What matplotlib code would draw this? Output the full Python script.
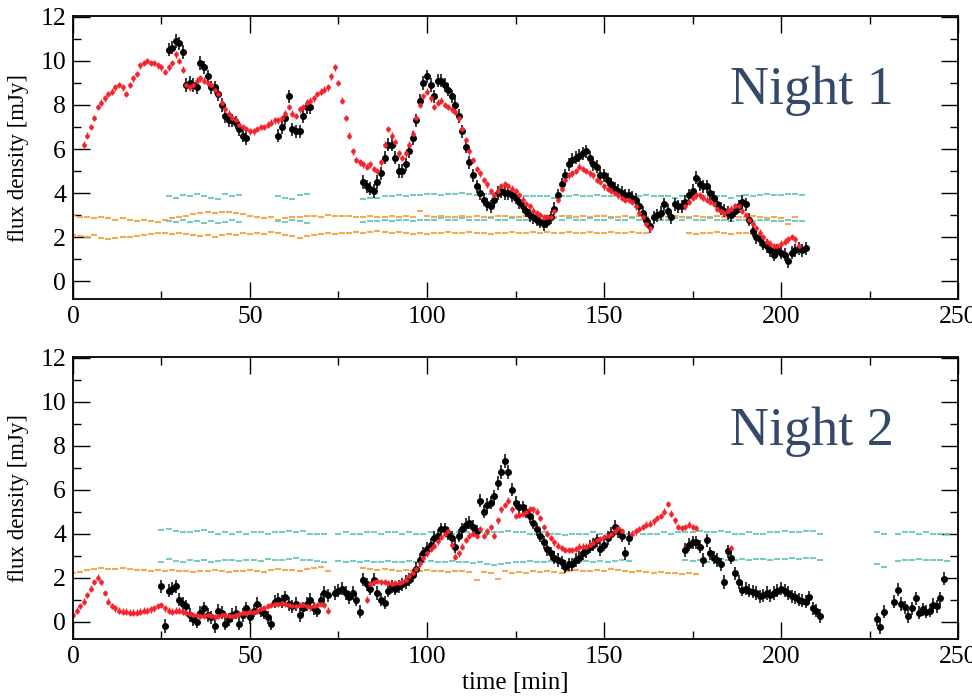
import numpy as np
import matplotlib
matplotlib.use("Agg")
import matplotlib.pyplot as plt
from matplotlib.ticker import MultipleLocator

RED = "#f5232b"
CYAN = "#68c6bd"
ORANGE = "#f3a23c"
NIGHT_COLOR = "#34486a"
SERIF = "Liberation Serif"

# ---------------- Night 1 ----------------
# source (red, 1 min sampling)
n1_red_a_t0 = 3
n1_red_a = [6.2, 6.6, 7.0, 7.4, 7.9, 8.1, 8.3, 8.5, 8.6, 8.8,
            8.9, 8.8, 8.5, 8.9, 9.2, 9.4, 9.8, 9.9, 10.0, 9.9,
            9.9, 9.8, 9.7, 9.5, 9.7, 9.9, 10.3, 10.0, 9.6, 8.9,
            8.8, 8.9, 9.1, 9.2, 9.1, 9.0, 8.9, 8.7, 8.5, 8.1,
            7.8, 7.6, 7.4, 7.3, 7.1, 7.0, 6.9, 6.8, 6.8, 6.9,
            7.0, 7.0, 7.1, 7.2, 7.3, 7.3, 7.4, 7.6, 7.9, 7.6,
            7.5, 7.8, 7.9, 8.1, 8.2, 8.3, 8.5, 8.6, 8.7, 8.8,
            9.3, 9.7, 9.0, 8.2, 7.4, 6.6, 5.9, 5.5, 5.4, 5.3,
            5.2, 5.3, 5.1, 5.0, 5.4, 6.2, 6.9, 6.6, 6.3, 5.8,
            5.6, 5.8, 6.2, 6.7, 7.4, 8.0, 8.4, 8.6, 8.3, 7.9,
            8.1, 8.2, 8.0, 7.9, 7.8, 7.7, 7.4, 6.9, 6.4, 5.9,
            5.5, 5.1, 4.9, 4.6, 4.4, 4.1, 3.9, 4.1, 4.3, 4.4,
            4.3, 4.2, 4.1, 3.9, 3.7, 3.5, 3.4, 3.2, 3.1, 3.0,
            2.9, 2.9, 2.9, 3.2, 3.7, 4.2, 4.6, 4.8, 4.9, 5.0,
            5.2, 5.1, 5.0, 4.9, 4.8, 4.6, 4.5, 4.3, 4.2, 4.1,
            4.0, 3.9, 3.8, 3.7, 3.7, 3.6, 3.4, 3.1, 2.9, 2.6, 2.4]
n1_red_b_t0 = 173
n1_red_b = [3.4, 3.6, 3.8, 3.9, 3.9, 3.8, 3.7, 3.6, 3.5, 3.3,
            3.2, 3.1, 3.2, 3.3, 3.4, 3.4, 3.2, 3.0, 2.8, 2.6,
            2.4, 2.2, 2.0, 1.8, 1.7, 1.6, 1.6, 1.7, 1.8, 1.9,
            2.0, 1.9, 1.6]

# source (black, with error bars)
n1_blk_a_t0 = 27
n1_blk_a = [10.5, 10.6, 10.9, 10.8, 10.4, 8.9, 9.0, 8.9, 8.8, 9.9,
            9.7, 9.3, 8.8, 8.8, 8.5, 8.0, 7.5, 7.3, 7.3, 7.2,
            6.9, 6.6, 6.5]
n1_blk_b_t0 = 58
n1_blk_b = [6.6, 7.0, 7.4, 8.4, 6.9, 6.8, 6.8, 7.5, 7.9, 7.9]
n1_blk_c_t0 = 82
n1_blk_c = [4.5, 4.3, 4.2, 4.1, 4.5, 4.9, 5.6, 6.2, 6.2, 5.6,
            5.0, 5.0, 5.3, 5.9, 6.5, 7.3, 8.2, 9.0, 9.3, 8.9,
            8.4, 9.1, 9.1, 8.9, 8.7, 8.4, 8.0, 7.5, 6.8, 6.1,
            5.4, 4.8, 4.3, 4.0, 3.7, 3.5, 3.4, 3.7, 4.0, 4.1,
            4.0, 4.0, 3.9, 3.8, 3.6, 3.4, 3.2, 3.0, 2.9, 2.8,
            2.7, 2.6, 2.7, 2.9, 3.3, 3.9, 4.4, 4.8, 5.3, 5.5,
            5.6, 5.7, 5.8, 5.9, 5.6, 5.3, 5.2, 4.8, 4.8, 4.6,
            4.4, 4.2, 4.1, 4.0, 3.9, 3.9, 3.8, 3.7, 3.4, 3.1,
            2.8, 2.5, 2.9, 3.0, 3.1, 3.5, 3.2, 2.9, 3.5, 3.4,
            3.4, 3.6, 3.9, 4.1, 4.7, 4.4, 4.3, 4.3, 4.0, 3.8,
            3.5, 3.3, 3.2, 3.1, 3.0, 3.2, 3.4, 3.6, 3.5, 2.8,
            2.3, 2.0, 1.9, 1.7, 1.6, 1.4, 1.2, 1.4, 1.3, 1.2,
            0.9, 1.3, 1.4, 1.5, 1.4, 1.5]

# comparison stars (2 min sampling)
n1_cyan_hi_a_t0 = 27
n1_cyan_hi_a = [3.85, 3.8, 3.9, 3.85, 3.95, 3.85, 3.8, 3.75, 3.95, 3.85, 3.9]
n1_cyan_hi_b_t0 = 58
n1_cyan_hi_b = [3.85, 3.8, 3.75, 3.9, 3.95]
n1_cyan_hi_c_t0 = 82
n1_cyan_hi_c = [3.75, 3.8, 3.8, 3.85, 3.85, 3.9, 3.85, 3.9, 3.9,
                3.95, 3.95, 3.9, 3.95, 3.95, 4.0, 3.95, 3.9, 3.95, 3.95,
                3.9, 3.9, 3.95, 3.9, 3.85, 3.85,
                3.85, 3.85, 3.8, 3.85, 3.85, 3.9, 3.85, 3.85, 3.9, 3.85,
                3.85, 3.9, 3.85, 3.8, 3.85, 3.9, 3.85, 3.85, 3.85, 3.8,
                3.85, 3.85, 3.9, 3.85, 3.9, 3.85, 3.85, 3.8, 3.85, 3.9,
                3.85, 3.9, 3.95, 3.9, 3.9, 3.95, 3.95, 3.9]
n1_cyan_lo_a_t0 = 27
n1_cyan_lo_a = [2.75, 2.7, 2.8, 2.7, 2.75, 2.65, 2.75, 2.65, 2.7, 2.8, 2.7]
n1_cyan_lo_b_t0 = 58
n1_cyan_lo_b = [2.75, 2.7, 2.8, 2.75, 2.65]
n1_cyan_lo_c_t0 = 82
n1_cyan_lo_c = [2.7, 2.75, 2.75, 2.8, 2.75, 2.8, 2.8, 2.75, 2.8,
                2.8, 2.8, 2.85, 2.8, 2.8, 2.85, 2.8, 2.8, 2.8, 2.85,
                2.8, 2.8, 2.85, 2.8, 2.8, 2.85,
                2.8, 2.85, 2.85, 2.8, 2.85, 2.8, 2.8, 2.85, 2.8, 2.8,
                2.85, 2.8, 2.8, 2.85, 2.8, 2.8, 2.85, 2.8, 2.8, 2.85,
                2.8, 2.85, 2.8, 2.8, 2.85, 2.8, 2.8, 2.75, 2.8, 2.8,
                2.75, 2.8, 2.8, 2.75, 2.75, 2.8, 2.75, 2.75]
n1_orange_hi_t0 = 0
n1_orange_hi = [3.0, 2.9, 2.9, 2.85, 2.9, 2.85, 2.8, 2.85, 2.8, 2.75, 2.8, 2.75, 2.7,
                2.8, 2.85, 2.9, 2.95, 3.05, 3.1, 3.15, 3.1, 3.15, 3.15, 3.1, 3.05, 2.95,
                2.9, 2.85, 2.9, 2.8, 2.85, 2.9, 2.9, 2.95, 2.95, 2.9, 3.0, 2.95, 2.95,
                2.95, 2.9, 2.9, 2.95, 2.9, 2.9, 2.95, 2.9, 2.95, 2.9, 3.2, 2.95, 2.9,
                2.95, 2.9, 2.9, 2.95, 2.9, 2.95, 2.9, 2.9, 2.95, 2.95, 2.9, 2.9, 2.95,
                2.9, 2.95, 2.95, 2.9, 2.95, 2.95, 2.9, 2.95, 2.9, 2.95, 2.95, 2.9, 2.9,
                2.95, 2.9, 2.95, 2.9, 2.85, 2.9, 2.9, 2.95, 2.9, 2.9, 2.95, 2.9, 2.9,
                2.95, 2.9, 2.85, 2.9, 2.9, 2.95, 2.9, 2.85, 2.9, 2.85, 2.6, 2.9]
n1_orange_lo_a_t0 = 0
n1_orange_lo_a = [2.1, 2.05, 2.0, 2.1, 1.95, 1.9, 1.95, 2.0, 2.0, 2.05, 2.1, 2.15, 2.2,
                  2.2, 2.15, 2.2, 2.15, 2.1, 2.05, 2.1, 2.0, 2.1, 2.15, 2.1, 2.2, 2.15,
                  2.2, 2.15, 2.25, 2.2, 2.1, 2.05, 1.95, 2.05, 2.1, 2.15, 2.2, 2.15, 2.2,
                  2.2, 2.25, 2.2, 2.25, 2.3, 2.25, 2.2, 2.25, 2.2, 2.15, 2.2, 2.15, 2.2,
                  2.2, 2.25, 2.2, 2.2, 2.25, 2.2, 2.2, 2.15, 2.2, 2.2, 2.25, 2.2, 2.2,
                  2.25, 2.2, 2.25, 2.2, 2.2, 2.25, 2.2, 2.2, 2.25, 2.2, 2.2, 2.25, 2.2,
                  2.2, 2.25, 2.2, 2.2]
n1_orange_lo_b_t0 = 174
n1_orange_lo_b = [2.2, 2.15, 2.2, 2.2, 2.25, 2.2, 2.15, 2.2, 2.2, 2.15]

# ---------------- Night 2 ----------------
n2_red_a_t0 = 0
n2_red_a = [0.3, 0.5, 0.7, 0.9, 1.2, 1.5, 1.8, 2.0, 1.8, 1.3,
            0.9, 0.7, 0.6, 0.5, 0.45, 0.45, 0.4, 0.4, 0.4, 0.45,
            0.5, 0.5, 0.55, 0.6, 0.7, 0.75, 0.6, 0.5, 0.45, 0.5,
            0.5, 0.45, 0.4, 0.35, 0.3, 0.3, 0.25, 0.25, 0.3, 0.25,
            0.2, 0.25, 0.3, 0.3, 0.25, 0.25, 0.3, 0.35, 0.4, 0.4,
            0.45, 0.45, 0.5, 0.55, 0.6, 0.7, 0.75, 0.8, 0.8, 0.85,
            0.8, 0.75, 0.7, 0.7, 0.75, 0.75, 0.7, 0.65, 0.7, 0.75,
            0.8, 0.75, 0.5]
n2_red_b_t0 = 83
n2_red_b = [1.0, 1.7, 1.8, 1.85, 1.8, 1.8, 1.75, 1.7, 1.75, 1.75,
            1.8, 1.9, 2.05, 2.2, 2.4, 2.65, 2.9, 3.1, 3.3, 3.45,
            3.65, 3.85, 4.0, 4.1, 3.5, 2.95, 3.1, 3.4, 3.7, 3.9,
            4.0, 3.9, 4.2, 3.9, 4.1, 4.3, 3.9, 4.6, 5.1, 5.3,
            5.5, 5.1, 4.8, 4.85, 4.9, 5.0, 5.1, 5.1, 5.0, 4.7,
            4.3, 4.0, 3.8, 3.6, 3.45, 3.35, 3.25, 3.25, 3.25, 3.3,
            3.4, 3.4, 3.4, 3.5, 3.55, 3.7, 3.75, 3.85, 3.9, 4.0,
            4.1, 4.25, 4.1]
n2_red_c_t0 = 158
n2_red_c = [4.0, 4.1, 4.2, 4.3, 4.4, 4.45, 4.55, 4.7, 4.8, 5.0,
            5.35, 4.9, 4.6, 4.3, 4.25, 4.3, 4.4, 4.3, 4.25]
n2_red_d_t0 = 186
n2_red_d = [3.35]

n2_blk_a_t0 = 25
n2_blk_a = [1.6, -0.2, 1.4, 1.5, 1.6, 1.0, 0.8, 0.7, 0.3, 0.1,
            0.0, 0.4, 0.6, 0.3, 0.2, -0.2, 0.5, 0.4, -0.1, 0.1,
            0.3, 0.4, -0.1, 0.3, 0.6, 0.2, 0.5, 0.8, 0.5, 0.4,
            0.2, -0.1, 0.9, 1.0, 0.9, 1.1, 0.8, 0.7, 0.8, 0.3,
            0.6, 0.8, 1.0, 0.6, 0.5, 1.0, 1.3, 1.2]
n2_blk_b_t0 = 74
n2_blk_b = [1.3, 1.4, 1.5, 1.3, 1.1, 1.3, 1.0, 0.45, 1.9, 1.7,
            1.5, 1.9, 1.3, 1.0, 0.85, 1.4, 1.6, 1.5, 1.6, 1.7,
            1.8, 1.9, 2.1, 2.4, 2.8, 3.1, 3.3, 3.5, 3.8, 3.9,
            4.2, 4.2, 4.0, 3.8, 3.4, 3.9, 4.2, 4.4, 4.5, 4.3,
            4.1, 5.5, 5.0, 5.3, 5.4, 5.7, 6.3, 6.8, 7.3, 6.8,
            6.0, 5.4, 5.2, 5.2, 5.0, 4.8, 4.5, 4.2, 3.9, 3.6,
            3.3, 3.1, 2.9, 2.8, 2.7, 2.5, 2.6, 2.6, 2.8, 2.9,
            3.1, 3.2, 3.4, 3.5, 3.7, 3.3, 3.5, 3.8, 4.0, 4.3,
            4.1, 3.9, 3.1, 3.8]
n2_blk_c_t0 = 173
n2_blk_c = [3.25, 3.5, 3.6, 3.6, 3.4, 2.8, 3.7, 3.1, 2.9, 2.8,
            2.6, 1.8, 3.2, 2.9, 2.2, 1.8, 1.45, 1.5, 1.4, 1.35,
            1.3, 1.15, 1.2, 1.3, 1.2, 1.3, 1.4, 1.5, 1.4, 1.3,
            1.15, 1.1, 1.0, 0.95, 0.9, 1.1, 0.6, 0.5, 0.25]
n2_blk_d_t0 = 227
n2_blk_d = [0.1, -0.25, 0.45]
n2_blk_e_t0 = 232
n2_blk_e = [0.9, 1.45, 0.8, 0.65, 0.25, 0.6, 1.05, 0.4, 0.55, 0.45,
            0.5, 0.75, 0.7, 1.05, 1.95]

n2_cyan_hi_a_t0 = 25
n2_cyan_hi_a = [4.15, 4.2, 4.1, 4.05, 4.05, 4.1, 4.15, 4.05, 4.0, 4.05, 4.0, 4.05,
                4.0, 4.05, 4.05, 4.0, 4.05, 4.05, 4.1, 4.05, 4.1, 4.0, 4.0, 4.0]
n2_cyan_hi_b_t0 = 75
n2_cyan_hi_b = [4.0, 4.05, 4.0, 4.0, 4.05, 4.05, 4.0, 4.05, 4.05, 4.0, 4.05, 4.0, 4.0,
                4.05, 4.0, 4.05, 4.0, 4.05, 4.05, 4.0, 4.05, 4.0, 4.05, 4.05, 4.1, 4.05,
                4.05, 4.0, 4.0, 4.05, 4.0, 4.0, 3.95, 4.0, 4.0, 4.0, 4.05, 4.0, 4.0,
                4.0, 4.05, 4.0, 4.05, 4.0, 4.0, 4.0, 4.05, 4.0, 4.05, 4.05, 4.05, 4.1,
                4.05, 4.05, 4.1, 4.05, 4.0, 4.0, 4.05, 4.0, 4.0, 4.05, 4.05, 4.1, 4.05,
                4.05, 4.1, 4.1, 4.0]
n2_cyan_hi_c_t0 = 227
n2_cyan_hi_c = [4.05, 4.0]
n2_cyan_hi_d_t0 = 233
n2_cyan_hi_d = [4.0, 4.05, 4.05, 4.0, 4.05, 4.0, 4.0, 4.0]
n2_cyan_lo_a_t0 = 25
n2_cyan_lo_a = [2.7, 2.85, 2.75, 2.7, 2.8, 2.75, 2.8, 2.7, 2.75, 2.8, 2.8, 2.75,
                2.8, 2.8, 2.75, 2.85, 2.8, 2.8, 2.85, 2.9, 2.8, 2.8, 2.75, 2.7]
n2_cyan_lo_b_t0 = 75
n2_cyan_lo_b = [2.75, 2.7, 2.75, 2.7, 2.75, 2.7, 2.7, 2.75, 2.7, 2.7, 2.75, 2.7, 2.7,
                2.75, 2.7, 2.7, 2.75, 2.7, 2.7, 2.65, 2.7, 2.6, 2.55, 2.6, 2.65, 2.7,
                2.7, 2.75, 2.7, 2.7, 2.75, 2.7, 2.7, 2.65, 2.7, 2.75, 2.7, 2.75, 2.7,
                2.75, 2.8, 2.75]
n2_cyan_lo_c_t0 = 173
n2_cyan_lo_c = [2.8, 2.75, 2.8, 2.7, 2.8, 2.85, 2.8, 2.8, 2.85, 2.8,
                2.85, 2.85, 2.8, 2.85, 2.85, 2.9, 2.85, 2.9, 2.9, 2.8]
n2_cyan_lo_d_t0 = 227
n2_cyan_lo_d = [2.6, 2.5]
n2_cyan_lo_e_t0 = 233
n2_cyan_lo_e = [2.75, 2.8, 2.8, 2.85, 2.8, 2.8, 2.8, 2.75]
n2_orange_a_t0 = 0
n2_orange_a = [2.2, 2.25, 2.35, 2.4, 2.45, 2.4, 2.4, 2.45, 2.4, 2.35,
               2.35, 2.3, 2.35, 2.3, 2.35, 2.3, 2.3, 2.25, 2.3, 2.3,
               2.35, 2.3, 2.25, 2.3, 2.3, 2.35, 2.3, 2.25, 2.35, 2.4,
               2.35, 2.35, 2.3, 2.4, 2.45, 2.5, 2.3]
n2_orange_b_t0 = 82
n2_orange_b = [2.45, 2.4, 2.35, 2.4, 2.35, 2.3, 2.35, 2.3, 2.3, 2.35,
               2.3, 2.3, 2.25, 2.3, 2.3, 2.25, 1.9, 2.25, 2.2, 1.95,
               2.3, 2.2, 2.25, 2.2, 2.3, 2.25, 2.3, 2.25, 2.2, 2.3,
               2.35, 2.3, 2.3, 2.35, 2.3, 2.4, 2.35, 2.3]
n2_orange_c_t0 = 158
n2_orange_c = [2.25, 2.3, 2.25, 2.2, 2.25, 2.2, 2.2, 2.15, 2.2, 2.15]


def times(t0, vals, step):
    return t0 + step * np.arange(len(vals))


def comp(ax, t0, vals, color):
    # comparison stars: short dashes so the 2 min sampling reads as a fuzzy band
    ax.plot(times(t0, vals, 2), vals, "_", ms=4.5, mew=1.5, color=color, alpha=0.9)


def black(ax, t0, vals):
    t = times(t0, vals, 1)
    ax.errorbar(t, vals, yerr=0.3, xerr=0.5, fmt="o", ms=4.0, color="k",
                mec="k", elinewidth=1.1, capsize=0)


def red(ax, t0, vals):
    t = times(t0, vals, 1)
    ax.errorbar(t, vals, yerr=0.15, fmt="o", ms=3.4, color=RED, mec="none",
                elinewidth=1.0, capsize=0)


def style_axes(ax):
    ax.set_xlim(0, 250)
    ax.set_ylim(-0.8, 12.03)
    ax.xaxis.set_major_locator(MultipleLocator(50))
    ax.xaxis.set_minor_locator(MultipleLocator(25))
    ax.yaxis.set_major_locator(MultipleLocator(2))
    ax.yaxis.set_minor_locator(MultipleLocator(1))
    ax.tick_params(which="both", direction="in", top=True, right=True, width=1.0)
    ax.tick_params(which="major", length=12, labelsize=18.5, pad=5)
    ax.tick_params(which="minor", length=6)
    for lab in ax.get_xticklabels() + ax.get_yticklabels():
        lab.set_fontfamily(SERIF)
    for sp in ax.spines.values():
        sp.set_linewidth(1.3)
    ax.set_ylabel("flux density [mJy]", fontsize=16.5, fontfamily=SERIF)
    ax.yaxis.set_label_coords(-0.05, 0.5)


fig = plt.figure(figsize=(9.72, 7.0), dpi=100)
ax1 = fig.add_axes([0.0751, 0.573, 0.9105, 0.404])
ax2 = fig.add_axes([0.0751, 0.087, 0.9105, 0.403])

# Night 1
for t0, v in [(n1_orange_hi_t0, n1_orange_hi), (n1_orange_lo_a_t0, n1_orange_lo_a),
              (n1_orange_lo_b_t0, n1_orange_lo_b)]:
    comp(ax1, t0, v, ORANGE)
for t0, v in [(n1_cyan_hi_a_t0, n1_cyan_hi_a), (n1_cyan_hi_b_t0, n1_cyan_hi_b),
              (n1_cyan_hi_c_t0, n1_cyan_hi_c), (n1_cyan_lo_a_t0, n1_cyan_lo_a),
              (n1_cyan_lo_b_t0, n1_cyan_lo_b), (n1_cyan_lo_c_t0, n1_cyan_lo_c)]:
    comp(ax1, t0, v, CYAN)
for t0, v in [(n1_blk_a_t0, n1_blk_a), (n1_blk_b_t0, n1_blk_b), (n1_blk_c_t0, n1_blk_c)]:
    black(ax1, t0, v)
for t0, v in [(n1_red_a_t0, n1_red_a), (n1_red_b_t0, n1_red_b)]:
    red(ax1, t0, v)

# Night 2
for t0, v in [(n2_orange_a_t0, n2_orange_a), (n2_orange_b_t0, n2_orange_b),
              (n2_orange_c_t0, n2_orange_c)]:
    comp(ax2, t0, v, ORANGE)
for t0, v in [(n2_cyan_hi_a_t0, n2_cyan_hi_a), (n2_cyan_hi_b_t0, n2_cyan_hi_b),
              (n2_cyan_hi_c_t0, n2_cyan_hi_c), (n2_cyan_hi_d_t0, n2_cyan_hi_d),
              (n2_cyan_lo_a_t0, n2_cyan_lo_a), (n2_cyan_lo_b_t0, n2_cyan_lo_b),
              (n2_cyan_lo_c_t0, n2_cyan_lo_c), (n2_cyan_lo_d_t0, n2_cyan_lo_d),
              (n2_cyan_lo_e_t0, n2_cyan_lo_e)]:
    comp(ax2, t0, v, CYAN)
for t0, v in [(n2_blk_a_t0, n2_blk_a), (n2_blk_b_t0, n2_blk_b), (n2_blk_c_t0, n2_blk_c),
              (n2_blk_d_t0, n2_blk_d), (n2_blk_e_t0, n2_blk_e)]:
    black(ax2, t0, v)
for t0, v in [(n2_red_a_t0, n2_red_a), (n2_red_b_t0, n2_red_b), (n2_red_c_t0, n2_red_c),
              (n2_red_d_t0, n2_red_d)]:
    red(ax2, t0, v)

for ax, name in [(ax1, "Night 1"), (ax2, "Night 2")]:
    style_axes(ax)
    ax.text(185.5, 8.05, name, fontsize=39, color=NIGHT_COLOR,
            fontfamily=SERIF, ha="left", va="baseline")

ax2.set_xlabel("time [min]", fontsize=18, fontfamily=SERIF, labelpad=3)

fig.savefig("out.png", dpi=100)
